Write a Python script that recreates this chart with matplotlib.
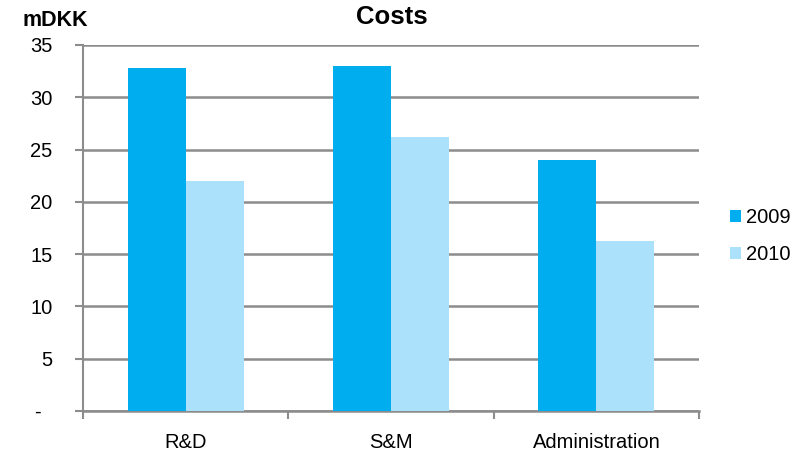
import matplotlib
matplotlib.use("Agg")
import matplotlib.pyplot as plt
import numpy as np

categories = ["R&D", "S&M", "Administration"]
series_names = ["2009", "2010"]
values_2009 = [32.8, 33.0, 24.0]
values_2010 = [22.0, 26.2, 16.3]
yticks = [0, 5, 10, 15, 20, 25, 30, 35]
ytick_labels = ["-  ", "5", "10", "15", "20", "25", "30", "35"]

c2009 = "#00AEEF"
c2010 = "#ABE1FA"
grid_c = "#8C8C8C"

plt.rcParams['font.family'] = ['Liberation Sans', 'DejaVu Sans']

fig = plt.figure(figsize=(8.08, 4.57), dpi=100)
ax = fig.add_axes([83/808, 1-411/457, (699-83)/808, (411-45)/457])

x = np.arange(len(categories))
w = 0.283
ax.bar(x - w/2, values_2009, w, color=c2009, label=series_names[0], zorder=3)
ax.bar(x + w/2, values_2010, w, color=c2010, label=series_names[1], zorder=3)

ax.set_xlim(-0.5, len(categories) - 0.5)
ax.set_ylim(0, 35)
ax.set_yticks(yticks)
ax.set_yticklabels(ytick_labels, fontsize=14.5)
ax.set_xticks(x)
ax.set_xticklabels(categories, fontsize=14.5)
ax.tick_params(axis='x', length=0, pad=16)
ax.set_xticks(np.arange(-0.5, len(categories)), minor=True)
ax.tick_params(axis='x', which='minor', length=6, width=1.5, color=grid_c)
ax.tick_params(axis='y', length=6, width=1.5, color=grid_c, pad=16)

ax.yaxis.grid(True, color=grid_c, linewidth=1.8, zorder=0)
ax.set_axisbelow(True)
for s in ['top', 'right']:
    ax.spines[s].set_visible(False)
ax.spines['left'].set_color(grid_c)
ax.spines['left'].set_linewidth(1.5)
ax.spines['bottom'].set_color(grid_c)
ax.spines['bottom'].set_linewidth(1.8)

fig.text(392/808, 1-17/457, "Costs", ha='center', va='center', fontsize=18.5, fontweight='bold')
fig.text(23/808, 1-20/457, "mDKK", ha='left', va='center', fontsize=15.5, fontweight='bold')

leg = fig.legend(loc='center left', bbox_to_anchor=(712/808, 1-236/457), frameon=False,
                 fontsize=14.5, handlelength=0.55, handleheight=0.55, handletextpad=0.25,
                 labelspacing=0.9)

fig.savefig("out.png", dpi=100)
